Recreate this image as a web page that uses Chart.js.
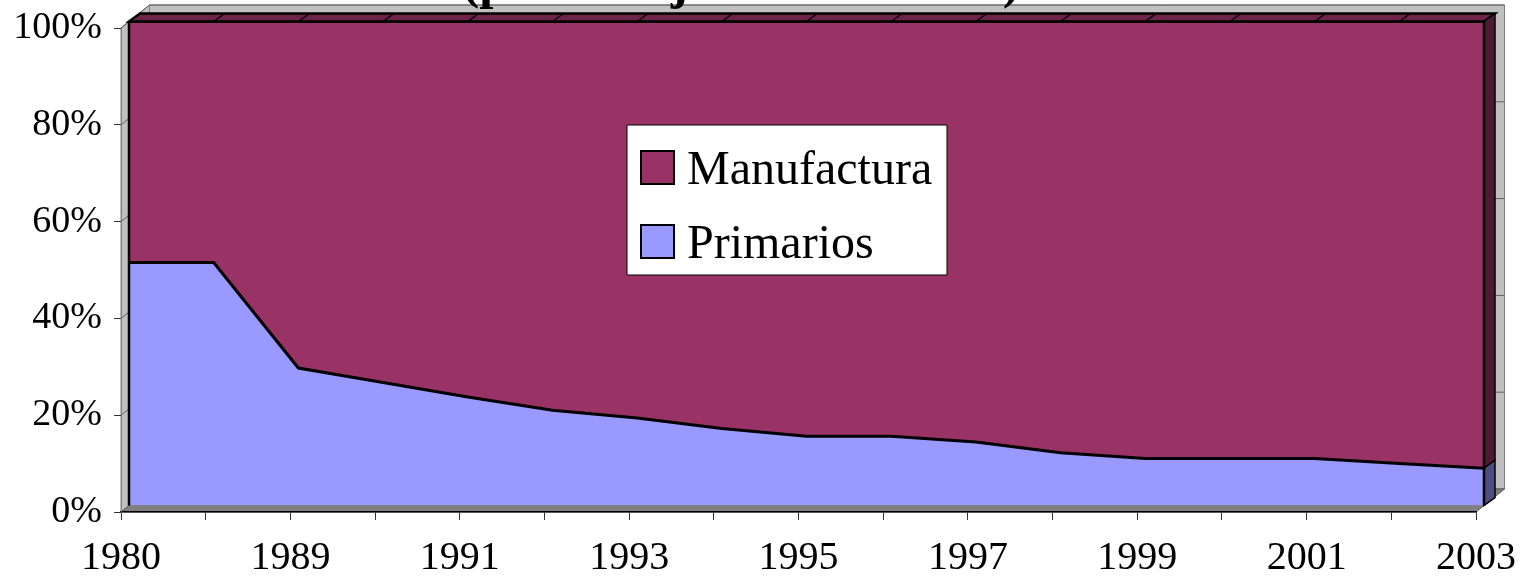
<!DOCTYPE html>
<html lang="es">
<head>
<meta charset="UTF-8">
<title>Exportaciones: Manufactura y Primarios</title>
<script src="https://cdn.jsdelivr.net/npm/chart.js@4/dist/chart.umd.min.js"></script>
<style>
    body { margin: 0; background: #fff; }
    #chart { display: block; }
</style>
</head>
<body>
<canvas id="chart" width="1530" height="576"></canvas>
<script>
    // datos (porcentaje del total)
    const years = ['1980', '1985', '1989', '1990', '1991', '1992', '1993', '1994', '1995',
        '1996', '1997', '1998', '1999', '2000', '2001', '2002', '2003'];
    const primarios = [50.2, 50.2, 28.4, 25.4, 22.4, 19.7, 18.1, 15.9, 14.3, 14.3, 13.1, 10.9, 9.7, 9.7, 9.7, 8.7, 7.7];
    const manufactura = [49.8, 49.8, 71.6, 74.6, 77.6, 80.3, 81.9, 84.1, 85.7, 85.7, 86.9, 89.1, 90.3, 90.3, 90.3, 91.3, 92.3];
    const yTicks = [0, 20, 40, 60, 80, 100];
    const titulo = '(porcentaje sobre el total)';

    const MAROON = '#993366', BLUE = '#9999ff';
    const SERIF = '"Liberation Serif", "Times New Roman", serif';

    // desplazamientos del efecto 3D
    const F = { x: 8, y: -6.5 };    // cara frontal del area
    const B = { x: 19, y: -14.5 };  // cara posterior del area
    const W = { x: 28.5, y: -23 };  // paredes

    function poly(ctx, pts, fill, stroke, lw) {
        ctx.beginPath();
        pts.forEach((p, i) => i ? ctx.lineTo(p[0], p[1]) : ctx.moveTo(p[0], p[1]));
        ctx.closePath();
        if (fill) { ctx.fillStyle = fill; ctx.fill(); }
        if (stroke) { ctx.strokeStyle = stroke; ctx.lineWidth = lw || 1; ctx.stroke(); }
    }

    const walls = {
        id: 'walls',
        beforeDraw(chart) {
            const ctx = chart.ctx, xs = chart.scales.x, ys = chart.scales.y;
            const x0 = xs.getPixelForValue(0), xn = xs.getPixelForValue(years.length - 1);
            const yt = ys.getPixelForValue(100), yb = ys.getPixelForValue(0);
            ctx.save();
            poly(ctx, [[x0, yt], [x0 + W.x, yt + W.y], [x0 + W.x, yb + W.y], [x0, yb]], '#c0c0c0', '#808080');
            poly(ctx, [[x0 + W.x, yt + W.y], [xn + W.x, yt + W.y], [xn + W.x, yb + W.y], [x0 + W.x, yb + W.y]], '#c0c0c0', '#808080');
            ctx.strokeStyle = '#606060';
            ctx.lineWidth = 1;
            yTicks.forEach(v => {
                const y = ys.getPixelForValue(v);
                ctx.beginPath();
                ctx.moveTo(x0, y);
                ctx.lineTo(x0 + W.x, y + W.y);
                ctx.lineTo(xn + W.x, y + W.y);
                ctx.stroke();
            });
            poly(ctx, [[x0, yb], [xn, yb], [xn + W.x, yb + W.y], [x0 + W.x, yb + W.y]], '#808080', '#606060');
            ctx.restore();
        },
        beforeDatasetsDraw(chart) {
            chart.ctx.save();
            chart.ctx.translate(F.x, F.y);
        },
        afterDatasetsDraw(chart) {
            const ctx = chart.ctx, xs = chart.scales.x, ys = chart.scales.y;
            ctx.restore();
            const n = years.length;
            const x0 = xs.getPixelForValue(0), xn = xs.getPixelForValue(n - 1);
            const yt = ys.getPixelForValue(100), yb = ys.getPixelForValue(0);
            const yp = ys.getPixelForValue(primarios[n - 1]);
            ctx.save();
            // cara superior
            poly(ctx, [[x0 + F.x, yt + F.y], [xn + F.x, yt + F.y], [xn + B.x, yt + B.y], [x0 + B.x, yt + B.y]], '#6e2449', '#000', 2.5);
            ctx.strokeStyle = '#000';
            ctx.lineWidth = 1.5;
            years.forEach((y, i) => {
                const x = xs.getPixelForValue(i);
                ctx.beginPath();
                ctx.moveTo(x + F.x, yt + F.y);
                ctx.lineTo(x + B.x, yt + B.y);
                ctx.stroke();
            });
            // caras laterales
            poly(ctx, [[xn + F.x, yt + F.y], [xn + B.x, yt + B.y], [xn + B.x, yp + B.y], [xn + F.x, yp + F.y]], '#4d1a33', '#000', 1.5);
            poly(ctx, [[xn + F.x, yp + F.y], [xn + B.x, yp + B.y], [xn + B.x, yb + B.y], [xn + F.x, yb + F.y]], '#4d4d80', '#000', 1.5);
            // bordes de la cara frontal
            ctx.lineWidth = 2.5;
            ctx.beginPath();
            ctx.moveTo(x0 + F.x, yt + F.y); ctx.lineTo(x0 + F.x, yb + F.y);
            ctx.moveTo(xn + F.x, yt + F.y); ctx.lineTo(xn + F.x, yb + F.y);
            ctx.stroke();
            ctx.restore();
        },
        afterDraw(chart) {
            const ctx = chart.ctx;
            const sets = chart.data.datasets;
            ctx.save();
            // leyenda
            poly(ctx, [[627, 125], [947, 125], [947, 275], [627, 275]], '#fff', '#000', 1);
            [sets[1], sets[0]].forEach((ds, i) => {
                const top = 151 + i * 74;
                poly(ctx, [[641, top], [674, top], [674, top + 33], [641, top + 33]], ds.backgroundColor, '#000', 2);
                ctx.fillStyle = '#000';
                ctx.font = '48px ' + SERIF;
                ctx.textAlign = 'left';
                ctx.textBaseline = 'alphabetic';
                ctx.fillText(ds.label, 687, top + 33);
            });
            // titulo (cortado en la parte superior)
            ctx.font = 'bold 51px ' + SERIF;
            ctx.textAlign = 'center';
            ctx.fillText(titulo, 741, -2);
            ctx.restore();
        }
    };

    new Chart(document.getElementById('chart'), {
        type: 'line',
        data: {
            labels: years,
            datasets: [{
                label: 'Primarios',
                data: primarios,
                backgroundColor: BLUE,
                borderColor: '#000',
                borderWidth: 3,
                fill: 'origin'
            }, {
                label: 'Manufactura',
                data: manufactura,
                backgroundColor: MAROON,
                borderColor: '#000',
                borderWidth: 3,
                fill: '-1'
            }]
        },
        options: {
            responsive: false,
            animation: false,
            clip: false,
            elements: { point: { radius: 0 }, line: { tension: 0 } },
            layout: { padding: { top: 28, right: 53, left: 0, bottom: 0 } },
            plugins: { legend: { display: false }, tooltip: { enabled: false } },
            scales: {
                x: {
                    offset: false,
                    afterFit: s => { s.height = 64; },
                    grid: { drawOnChartArea: false, tickLength: 8, color: '#333' },
                    border: { color: '#000', width: 1.5 },
                    ticks: {
                        autoSkip: false, maxRotation: 0, padding: 14, color: '#000',
                        font: { family: SERIF, size: 40 },
                        callback: (v, i) => i % 2 === 0 ? years[i] : ''
                    }
                },
                y: {
                    stacked: true,
                    min: 0, max: 100,
                    afterFit: s => { s.width = 121; s.paddingTop = 0; s.paddingBottom = 0; },
                    grid: { drawOnChartArea: false, tickLength: 7, color: '#333' },
                    border: { color: '#808080' },
                    ticks: {
                        stepSize: 20, padding: 12, color: '#000',
                        font: { family: SERIF, size: 38 },
                        callback: v => v + '%'
                    }
                }
            }
        },
        plugins: [walls]
    });
</script>
</body>
</html>
